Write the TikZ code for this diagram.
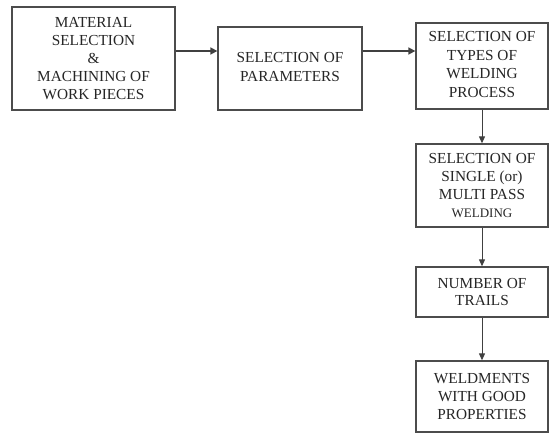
\documentclass[tikz,border=0pt]{standalone}
\usepackage{fontspec}
\setmainfont{Liberation Serif}
\usetikzlibrary{arrows.meta,calc}
\begin{document}
\begin{tikzpicture}[x=1pt,y=-1pt,
  box/.style={draw=black!70,line width=1.3pt,fill=white,align=center,inner sep=0pt,
    font=\fontsize{15.3}{17.8}\selectfont,text=black!85},
  arr/.style={draw=black!75,line width=1pt,-{Triangle[length=7pt,width=6pt]}},
  harr/.style={draw=black!75,line width=1.6pt,-{Triangle[length=7pt,width=7pt]}}]
\useasboundingbox (0,0) rectangle (550,434);
\node[box,minimum width=163pt,minimum height=103pt] (b1) at (93.5,58.5)
  {MATERIAL\\SELECTION\\\&\\MACHINING OF\\WORK PIECES};
\node[box,minimum width=144pt,minimum height=83pt] (b2) at (290,68.5)
  {\raisebox{-4pt}{\begin{tabular}{@{}c@{}}SELECTION OF\\[0.8pt]PARAMETERS\end{tabular}}};
\node[box,minimum width=132pt,minimum height=86pt] (b3) at (482,66)
  {\raisebox{3pt}{\begin{tabular}{@{}c@{}}SELECTION OF\\[0.8pt]TYPES OF\\[0.8pt]WELDING\\[0.8pt]PROCESS\end{tabular}}};
\node[box,minimum width=132pt,minimum height=83pt] (b4) at (482,185.5)
  {SELECTION OF\\SINGLE (or)\\MULTI PASS\\{\fontsize{13}{17}\selectfont WELDING}};
\node[box,minimum width=132pt,minimum height=50pt] (b5) at (482,292)
  {NUMBER OF\\TRAILS};
\node[box,minimum width=132pt,minimum height=71pt] (b6) at (482,396.5)
  {WELDMENTS\\WITH GOOD\\PROPERTIES};
\coordinate (h) at (0,51);
\draw[harr] (b1.east |- h) -- (b2.west |- h);
\draw[harr] (b2.east |- h) -- (b3.west |- h);
\draw[arr] (b3.south) -- (b4.north);
\draw[arr] (b4.south) -- (b5.north);
\draw[arr] (b5.south) -- (b6.north);
\end{tikzpicture}
\end{document}
